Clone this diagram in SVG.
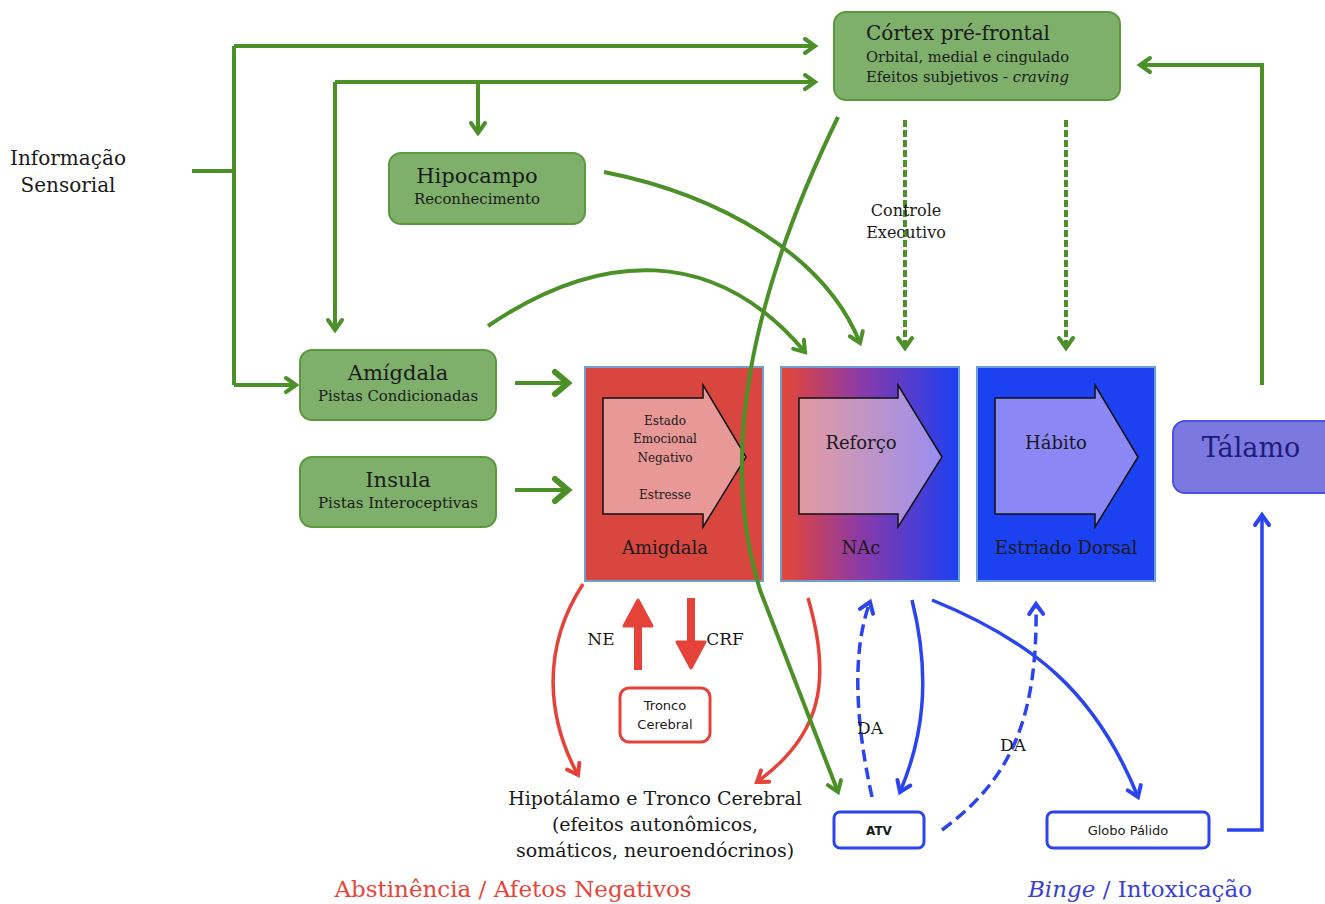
<svg xmlns="http://www.w3.org/2000/svg" width="1325" height="904" viewBox="0 0 1325 904">
<style>
text{font-family:"DejaVu Serif","Liberation Serif",serif;fill:#1a1a1a}
.sans{font-family:"DejaVu Sans","Liberation Sans",sans-serif}
.gnode{fill:#7fb06b;stroke:#5b9a3c;stroke-width:2}
.g{fill:none;stroke:#4b9128;stroke-width:4}
.gd{fill:none;stroke:#4b9128;stroke-width:4;stroke-dasharray:7,3}
.r{fill:none;stroke:#e5423a;stroke-width:3.5}
.b{fill:none;stroke:#2a44f0;stroke-width:3.5}
.bd{fill:none;stroke:#2a44f0;stroke-width:3.5;stroke-dasharray:12,6}
.c{text-anchor:middle}
.box{stroke:#6d9fd2;stroke-width:2}
.arr{stroke:#111;stroke-width:1.5}
</style>
<defs>
<marker id="mg" viewBox="0 0 14 16" refX="12" refY="8" markerWidth="14" markerHeight="16" markerUnits="userSpaceOnUse" orient="auto" overflow="visible"><path d="M2,1 L12,8 L2,15" fill="none" stroke="#4b9128" stroke-width="4" stroke-linecap="round"/></marker>
<marker id="mgb" viewBox="0 0 20 24" refX="16" refY="12" markerWidth="20" markerHeight="24" markerUnits="userSpaceOnUse" orient="auto" overflow="visible"><path d="M3,1 L16,12 L3,23" fill="none" stroke="#4b9128" stroke-width="6" stroke-linecap="round"/></marker>
<marker id="mb" viewBox="0 0 14 16" refX="12" refY="8" markerWidth="14" markerHeight="16" markerUnits="userSpaceOnUse" orient="auto" overflow="visible"><path d="M2,1 L12,8 L2,15" fill="none" stroke="#2a44f0" stroke-width="4" stroke-linecap="round"/></marker>
<marker id="mr" viewBox="0 0 14 16" refX="12" refY="8" markerWidth="14" markerHeight="16" markerUnits="userSpaceOnUse" orient="auto" overflow="visible"><path d="M2,1 L12,8 L2,15" fill="none" stroke="#e5423a" stroke-width="4" stroke-linecap="round"/></marker>
<linearGradient id="gNac" x1="0" y1="0" x2="1" y2="0">
<stop offset="0" stop-color="#e2483a"/><stop offset="0.08" stop-color="#d84448"/><stop offset="0.45" stop-color="#8a3aa8"/><stop offset="1" stop-color="#1c40f2"/>
</linearGradient>
<linearGradient id="gRef" x1="0" y1="0" x2="1" y2="0">
<stop offset="0" stop-color="#e39aa0"/><stop offset="1" stop-color="#9a8ef0"/>
</linearGradient>
</defs>

<g id="connectors">
<path class="g" d="M192,171 L234,171"/>
<path class="g" d="M234,46 L234,385"/>
<path class="g" d="M234,46 L815,46" marker-end="url(#mg)"/>
<path class="g" d="M234,385 L296,385" marker-end="url(#mg)"/>
<path class="g" d="M335,82 L815,82" marker-end="url(#mg)"/>
<path class="g" d="M335,82 L335,330" marker-end="url(#mg)"/>
<path class="g" d="M478,82 L478,133" marker-end="url(#mg)"/>
<path class="g" d="M1262,385 L1262,65 L1140,65" marker-end="url(#mg)"/>
<path class="gd" d="M905,120 L905,348" marker-end="url(#mg)"/>
<path class="gd" d="M1066,120 L1066,348" marker-end="url(#mg)"/>
<path class="g" d="M604,172 C720,195 825,255 860,343" marker-end="url(#mg)"/>
<path class="g" d="M488,326 C600,250 715,245 805,352" marker-end="url(#mg)"/>
<path class="g" stroke-width="6" d="M515,383 L568,383" marker-end="url(#mgb)"/>
<path class="g" stroke-width="6" d="M515,490 L568,490" marker-end="url(#mgb)"/>
<path class="r" d="M583,584 C540,650 548,720 578,775" marker-end="url(#mr)"/>
<path class="r" d="M808,598 C832,680 822,735 757,782" marker-end="url(#mr)"/>
<path d="M638,670 L638,620" stroke="#e5423a" stroke-width="8" fill="none"/>
<path d="M624,626 L638,600 L652,626 Z" fill="#e5423a" stroke="#e5423a" stroke-width="3" stroke-linejoin="round"/>
<path d="M691,598 L691,648" stroke="#e5423a" stroke-width="8" fill="none"/>
<path d="M677,642 L691,668 L705,642 Z" fill="#e5423a" stroke="#e5423a" stroke-width="3" stroke-linejoin="round"/>
<path class="bd" d="M872,797 C855,720 852,650 870,602" marker-end="url(#mb)"/>
<path class="b" d="M912,600 C932,680 922,740 900,792" marker-end="url(#mb)"/>
<path class="b" d="M932,600 C1030,640 1095,690 1138,797" marker-end="url(#mb)"/>
<path class="bd" d="M942,830 C1010,780 1038,720 1036,604" marker-end="url(#mb)"/>
<path class="b" d="M1227,830 L1262,830 L1262,515" marker-end="url(#mb)"/>
</g>

<g id="sensorial">
<text class="c" x="68" y="165" font-size="20">Informação</text>
<text class="c" x="68" y="192" font-size="20">Sensorial</text>
</g>

<g id="cortex">
<rect class="gnode" x="834" y="12" width="286" height="88" rx="12"/>
<text x="866" y="40" font-size="21" textLength="184" lengthAdjust="spacingAndGlyphs">Córtex pré-frontal</text>
<text x="866" y="62" font-size="15" textLength="203" lengthAdjust="spacingAndGlyphs">Orbital, medial e cingulado</text>
<text x="866" y="82" font-size="15" textLength="203" lengthAdjust="spacingAndGlyphs">Efeitos subjetivos - <tspan font-style="italic">craving</tspan></text>
</g>

<g id="hipocampo">
<rect class="gnode" x="389" y="153" width="196" height="71" rx="12"/>
<text class="c" x="477" y="183" font-size="21">Hipocampo</text>
<text class="c" x="477" y="204" font-size="15" textLength="126" lengthAdjust="spacingAndGlyphs">Reconhecimento</text>
</g>

<g id="amigdala-node">
<rect class="gnode" x="300" y="350" width="196" height="70" rx="12"/>
<text class="c" x="398" y="380" font-size="21">Amígdala</text>
<text class="c" x="398" y="401" font-size="15" textLength="160" lengthAdjust="spacingAndGlyphs">Pistas Condicionadas</text>
</g>

<g id="insula">
<rect class="gnode" x="300" y="457" width="196" height="70" rx="12"/>
<text class="c" x="398" y="487" font-size="21">Insula</text>
<text class="c" x="398" y="508" font-size="15" textLength="160" lengthAdjust="spacingAndGlyphs">Pistas Interoceptivas</text>
</g>

<g id="amigdala-box">
<rect class="box" x="585" y="367" width="178" height="214" fill="#d9463f"/>
<path class="arr" d="M603,398 L703,398 L703,385 L746,457 L703,527 L703,514 L603,514 Z" fill="#e89896"/>
<text class="c" x="665" y="425" font-size="12">Estado</text>
<text class="c" x="665" y="443" font-size="12">Emocional</text>
<text class="c" x="665" y="462" font-size="12">Negativo</text>
<text class="c" x="665" y="499" font-size="12">Estresse</text>
<text class="c" x="665" y="554" font-size="18">Amigdala</text>
</g>

<g id="nac">
<rect class="box" x="781" y="367" width="178" height="214" fill="url(#gNac)"/>
<path class="arr" d="M799,398 L898,398 L898,385 L942,457 L898,527 L898,514 L799,514 Z" fill="url(#gRef)"/>
<text class="c" x="861" y="449" font-size="18">Reforço</text>
<text class="c" x="861" y="554" font-size="18">NAc</text>
</g>

<g id="estriado">
<rect class="box" x="977" y="367" width="178" height="214" fill="#1b41f0"/>
<path class="arr" d="M995,398 L1095,398 L1095,385 L1138,457 L1095,527 L1095,514 L995,514 Z" fill="#8b88f5"/>
<text class="c" x="1056" y="449" font-size="18">Hábito</text>
<text class="c" x="1066" y="554" font-size="18">Estriado Dorsal</text>
</g>

<g id="talamo">
<rect x="1173" y="421" width="170" height="72" rx="12" fill="#7b79df" stroke="#4a52e6" stroke-width="2"/>
<text class="c" x="1251" y="457" font-size="27" style="fill:#1c1c7a">Tálamo</text>
</g>

<g id="tronco">
<rect x="620" y="688" width="90" height="54" rx="9" fill="#fff" stroke="#e5423a" stroke-width="3"/>
<text class="c sans" x="665" y="710" font-size="13">Tronco</text>
<text class="c sans" x="665" y="729" font-size="13">Cerebral</text>
</g>

<g id="connectors-front">
<path class="g" stroke-width="3" d="M838,117 Q700,400 760,590 L838,792" marker-end="url(#mg)"/>
</g>

<g id="labels">
<text class="c" x="601" y="645" font-size="17">NE</text>
<text class="c" x="725" y="645" font-size="17">CRF</text>
<text class="c" x="906" y="216" font-size="16">Controle</text>
<text class="c" x="906" y="238" font-size="16">Executivo</text>
<text class="c" x="870" y="734" font-size="17">DA</text>
<text class="c" x="1013" y="751" font-size="17">DA</text>
</g>

<g id="hipotalamo">
<text class="c" x="655" y="805" font-size="19">Hipotálamo e Tronco Cerebral</text>
<text class="c" x="655" y="831" font-size="19">(efeitos autonômicos,</text>
<text class="c" x="655" y="857" font-size="19">somáticos, neuroendócrinos)</text>
</g>

<g id="atv">
<rect x="834" y="812" width="90" height="36" rx="6" fill="#fff" stroke="#2a44f0" stroke-width="3"/>
<text class="c sans" x="879" y="835" font-size="12" font-weight="bold">ATV</text>
</g>

<g id="globo">
<rect x="1047" y="812" width="162" height="36" rx="6" fill="#fff" stroke="#2a44f0" stroke-width="3"/>
<text class="c sans" x="1128" y="835" font-size="13">Globo Pálido</text>
</g>

<g id="footer">
<text class="c" x="513" y="897" font-size="23" style="fill:#e8453a">Abstinência / Afetos Negativos</text>
<text class="c" x="1140" y="897" font-size="23" style="fill:#3a3fd8"><tspan font-style="italic">Binge</tspan> / Intoxicação</text>
</g>
</svg>
